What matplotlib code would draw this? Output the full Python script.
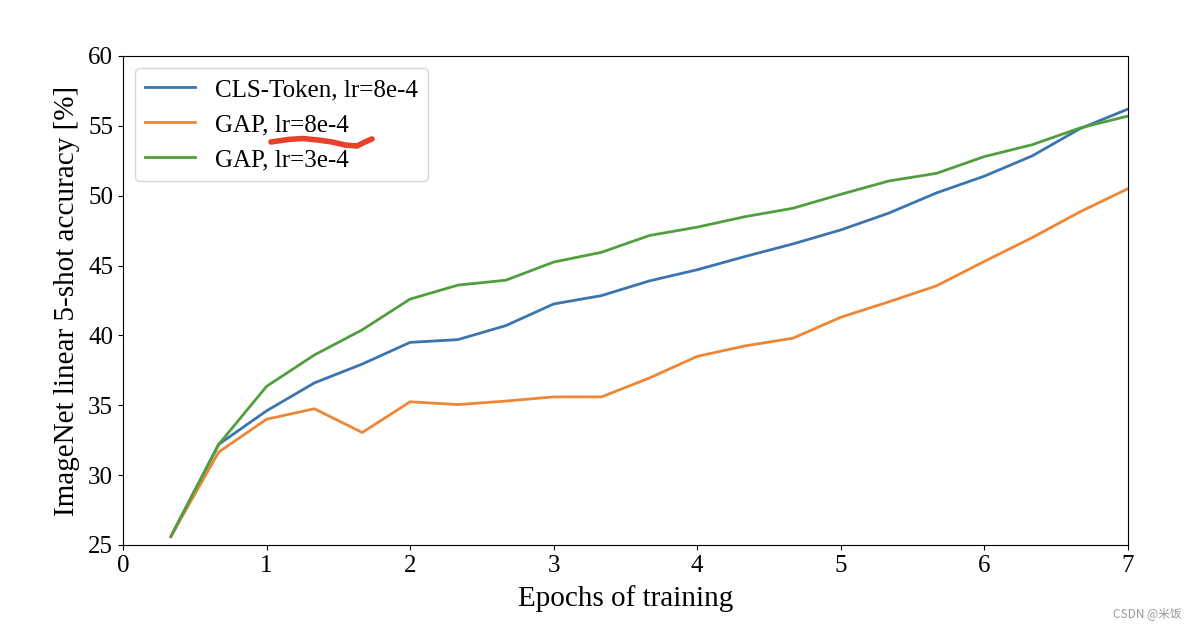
import numpy as np
import matplotlib
matplotlib.use("Agg")
import matplotlib.pyplot as plt
from matplotlib.lines import Line2D

# ------------------------- Data ------------------------- #
epochs = [k / 3 for k in range(1, 22)]

cls_token_8e4 = [25.6, 32.2, 34.6, 36.6, 37.95, 39.5, 39.7, 40.7, 42.25, 42.85, 43.9,
                 44.7, 45.65, 46.55, 47.55, 48.75, 50.2, 51.4, 52.85, 54.8, 56.2]
gap_8e4 = [25.6, 31.65, 34.0, 34.75, 33.05, 35.25, 35.05, 35.3, 35.6, 35.6, 36.95,
           38.5, 39.25, 39.8, 41.3, 42.4, 43.55, 45.3, 47.0, 48.85, 50.5]
gap_3e4 = [25.6, 32.2, 36.35, 38.6, 40.4, 42.6, 43.6, 43.95, 45.25, 45.95, 47.15,
           47.75, 48.5, 49.1, 50.1, 51.05, 51.6, 52.8, 53.65, 54.85, 55.7]

labels = ["CLS-Token, lr=8e-4", "GAP, lr=8e-4", "GAP, lr=3e-4"]
colors = ["#3b75af", "#ef8636", "#519e3e"]

# ------------------------- Plot ------------------------- #
plt.rcParams['font.family'] = ['Liberation Serif', 'DejaVu Serif']

fig = plt.figure(figsize=(11.96, 6.34), dpi=100)
ax = fig.add_axes([0.1028, 0.1404, 0.8403, 0.7713])

for series, label, color in zip([cls_token_8e4, gap_8e4, gap_3e4], labels, colors):
    ax.plot(epochs, series, color=color, linewidth=2, label=label)

ax.set_xlim(0, 7)
ax.set_ylim(25, 60)
ax.set_xticks(range(0, 8))
ax.set_yticks(range(25, 61, 5))
ax.tick_params(labelsize=18)
ax.set_xlabel("Epochs of training", fontsize=21, labelpad=6)
ax.set_ylabel("ImageNet linear 5-shot accuracy [%]", fontsize=21, labelpad=6)
ax.legend(loc="upper left", fontsize=18, borderaxespad=0.5)

# red hand-drawn underline on the legend
sx = np.array([271, 288, 303, 318, 332, 345, 357, 365, 372]) / 1196
sy = 1 - np.array([142, 139.5, 138.5, 140, 142, 145, 146, 142, 139]) / 634
fig.add_artist(Line2D(sx, sy, color="#e8412a", linewidth=4, solid_capstyle="round",
                      transform=fig.transFigure))

# watermark
fig.text(0.988, 0.022, "CSDN @米饭", ha="right", va="bottom", fontsize=8.5, color="#999999",
         family=['Noto Sans CJK SC', 'DejaVu Sans'])

fig.savefig("out.png", dpi=100)
